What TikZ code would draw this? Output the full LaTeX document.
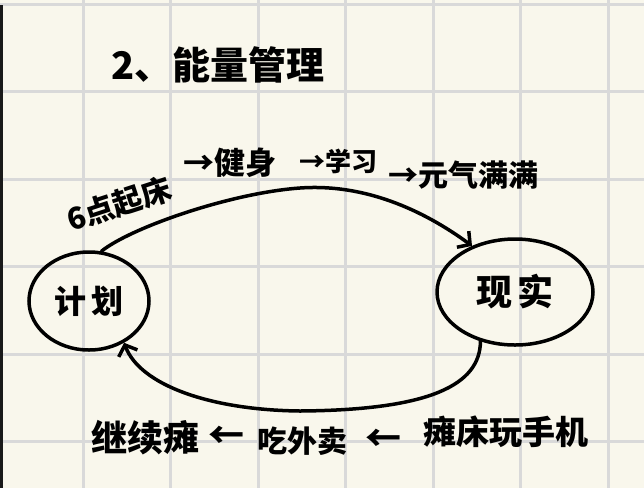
\documentclass[tikz,border=0pt]{standalone}
\usepackage{fontspec}
\newfontfamily\cjk{Noto Sans CJK SC}
\usetikzlibrary{shapes.geometric,arrows.meta}
\definecolor{paper}{RGB}{249,247,236}
\definecolor{gridc}{RGB}{217,217,217}
\newcommand{\fs}[1]{\fontsize{#1}{#1}\selectfont}
\tikzset{
  gridline/.style={gridc, line width=3pt},
  hand/.style={font=\cjk\bfseries, inner sep=0pt, text=black},
  bubble/.style={ellipse, draw=black, line width=3.5pt, inner sep=0pt, font=\cjk\bfseries},
  conn/.style={draw=black, line width=3.5pt, line cap=round, line join=round,
    -{Straight Barb[length=9pt,width=20pt]}}
}
\begin{document}
\begin{tikzpicture}[x=1pt,y=-1pt]
\useasboundingbox (0,0) rectangle (644,488);
\fill[paper] (0,0) rectangle (644,488);
% grid
\foreach \gx in {83,170.5,258,345.5,433,520.5,608}
  \draw[gridline] (\gx,0) -- (\gx,488);
\foreach \gy in {4,91.5,179,266.5,354,441.5}
  \draw[gridline] (0,\gy) -- (644,\gy);
\draw[black!90, line width=3pt] (1.5,5) -- (1.5,488);
% title
\node[hand, font=\cjk\bfseries\fs{38}] (title) at (218,65) {2、能量管理};
% bubbles
\node[bubble, minimum width=120pt, minimum height=98pt, font=\cjk\bfseries\fs{32}] (plan) at (89,301) {计\,划};
\node[bubble, minimum width=156pt, minimum height=106pt, font=\cjk\bfseries\fs{36}] (real) at (515,292) {现\,实};
% top connector
\draw[conn] (plan.76) .. controls (130,228) and (230,193) .. (300,188)
  .. controls (370,183) and (430,215) .. (real.133);
% bottom connector
\draw[conn] (real.235) .. controls (480,385) and (430,410) .. (300,411)
  .. controls (210,410) and (140,385) .. (plan.310);
% top labels
\node[hand, font=\cjk\bfseries\fs{30}, rotate=18] (t1) at (119,204) {6点起床};
\node[hand, font=\cjk\bfseries\fs{31}] (t2) at (230,163) {→健身};
\node[hand, font=\cjk\bfseries\fs{26}] (t3) at (338,161) {→学习};
\node[hand, font=\cjk\bfseries\fs{30}] (t4) at (463,175) {→元气满满};
% bottom labels
\node[hand, font=\cjk\bfseries\fs{36}] (b1) at (145,438) {继续瘫};
\node[hand, font=\cjk\bfseries\fs{36}] (b2) at (226,437) {←};
\node[hand, font=\cjk\bfseries\fs{30}] (b3) at (302,441) {吃外卖};
\node[hand, font=\cjk\bfseries\fs{36}] (b4) at (383,440) {←};
\node[hand, font=\cjk\bfseries\fs{33}] (b5) at (506,432) {瘫床玩手机};
\end{tikzpicture}
\end{document}
